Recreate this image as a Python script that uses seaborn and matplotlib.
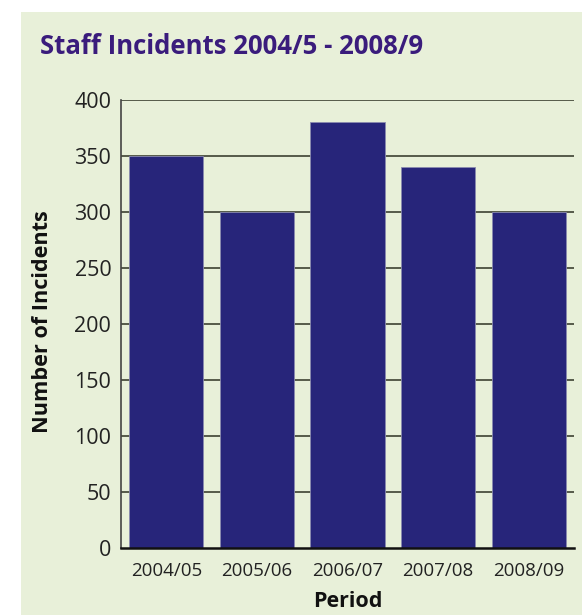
import matplotlib
matplotlib.use("Agg")
import matplotlib.pyplot as plt
import seaborn as sns
import pandas as pd
from matplotlib.patches import Rectangle

periods = ["2004/05", "2005/06", "2006/07", "2007/08", "2008/09"]
incidents = [350, 300, 380, 340, 300]
yticks = [0, 50, 100, 150, 200, 250, 300, 350, 400]

sns.set_theme(style="white")
plt.rcParams['font.family'] = ['Open Sans', 'DejaVu Sans']

W, H = 582, 615
fig = plt.figure(figsize=(W / 100, H / 100), dpi=100, facecolor="white")
bg = "#e8f0d9"
fig.patches.append(Rectangle((21 / W, 0), 1 - 21 / W, 1 - 12 / H, transform=fig.transFigure,
                             facecolor=bg, edgecolor="none", zorder=-10))

ax = fig.add_axes([121 / W, (H - 548) / H, (574 - 121) / W, (548 - 100) / H])
ax.set_facecolor(bg)

df = pd.DataFrame({"Period": periods, "Incidents": incidents})
sns.barplot(data=df, x="Period", y="Incidents", color="#27257a", saturation=1,
            width=0.82, edgecolor="#8a8ab0", linewidth=0.6, ax=ax, zorder=3)

ax.set_ylim(0, 400)
ax.set_xlim(-0.5, 4.5)
ax.set_yticks(yticks)
for y in yticks[1:]:
    ax.axhline(y, color="#555a4a", linewidth=1.4, zorder=1)

for s in ["top", "right"]:
    ax.spines[s].set_visible(False)
ax.spines["left"].set_color("#444444")
ax.spines["left"].set_linewidth(1.2)
ax.spines["bottom"].set_color("#111111")
ax.spines["bottom"].set_linewidth(1.8)
ax.spines["bottom"].set_zorder(5)

ax.tick_params(axis="both", length=0, labelcolor="#222222")
ax.tick_params(axis="y", labelsize=15.5, pad=7)
ax.tick_params(axis="x", labelsize=13.5, pad=10)

ax.set_xlabel("Period", fontsize=15.5, fontweight="bold", color="#111111", labelpad=8)
ax.set_ylabel("Number of Incidents", fontsize=15.6, fontweight="bold", color="#111111")
ax.yaxis.set_label_coords((53 - 121) / (574 - 121), (548 - 322) / (548 - 100))

fig.text(40 / W, 1 - 46 / H, "Staff Incidents 2004/5 - 2008/9", fontsize=18.5, fontweight="bold",
         color="#3a1c7c", va="center", ha="left")

fig.savefig("out.png", dpi=100, facecolor="white")
